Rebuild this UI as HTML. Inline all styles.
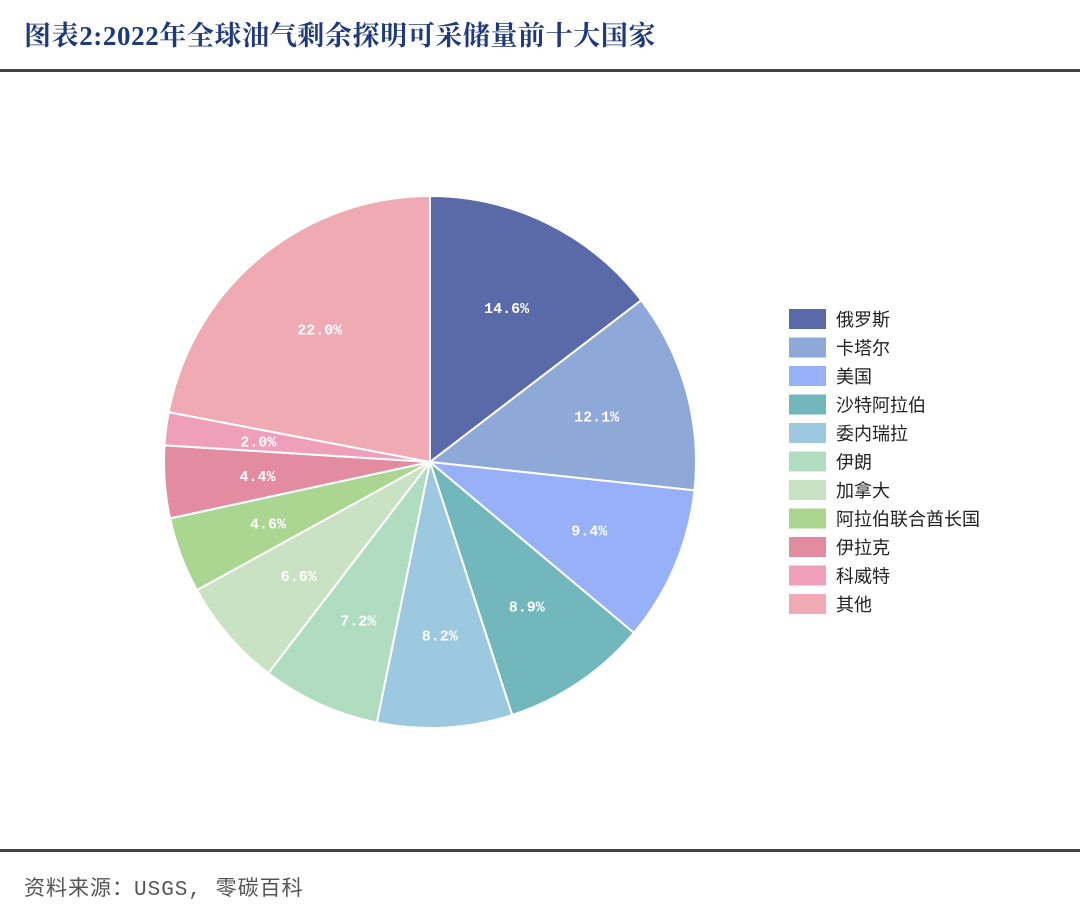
<!DOCTYPE html>
<html><head><meta charset="utf-8"><style>
body{margin:0;background:#fff;width:1080px;height:918px;overflow:hidden;font-family:"Liberation Sans","Noto Sans CJK SC",sans-serif;}
</style></head><body>
<svg id="s" width="1080" height="918" xmlns="http://www.w3.org/2000/svg">
<text x="24" y="45" font-family="Liberation Serif,'Noto Serif CJK SC',serif" font-weight="bold" font-size="27" letter-spacing="0.6" fill="#1f3a7a">图表2:2022年全球油气剩余探明可采储量前十大国家</text>
<rect x="0" y="69" width="1080" height="3" fill="#444"/>
<rect x="0" y="849" width="1080" height="3" fill="#444"/>
<text x="24" y="895" font-family="'Liberation Mono','Noto Sans CJK SC',monospace" font-size="21" letter-spacing="1" fill="#555">资料来源：USGS, 零碳百科</text>
<g id="pie"></g>
<g id="leg"></g>
</svg>
<script>
var d=[["俄罗斯",14.6,"#5a6aa8"],["卡塔尔",12.1,"#8ea9d8"],["美国",9.4,"#97b0f8"],["沙特阿拉伯",8.9,"#72b7bb"],["委内瑞拉",8.2,"#9dc9e0"],["伊朗",7.2,"#b0dcc0"],["加拿大",6.6,"#c9e2c3"],["阿拉伯联合酋长国",4.6,"#abd692"],["伊拉克",4.4,"#e38ba0"],["科威特",2.0,"#f09fbb"],["其他",22.0,"#f0aab4"]];
var cx=430,cy=462,r=266,a=0,h="",l="";
function pt(ang,rr){var t=ang*2*Math.PI/100;return [cx+rr*Math.sin(t),cy-rr*Math.cos(t)];}
d.forEach(function(e,i){
 var p1=pt(a,r),p2=pt(a+e[1],r),lg=e[1]>50?1:0;
 h+='<path d="M'+cx+','+cy+'L'+p1[0]+','+p1[1]+'A'+r+','+r+' 0 '+lg+' 1 '+p2[0]+','+p2[1]+'Z" fill="'+e[2]+'" stroke="#fff" stroke-width="2"/>';
 var m=pt(a+e[1]/2,173);
 h+='<text x="'+m[0]+'" y="'+(m[1]+6)+'" text-anchor="middle" font-family="Liberation Mono,monospace" font-weight="bold" font-size="15" fill="#fff">'+e[1].toFixed(1)+'%</text>';
 a+=e[1];
 var y=309+i*28.5;
 l+='<rect x="789" y="'+y+'" width="37" height="20" fill="'+e[2]+'"/><text x="836" y="'+(y+17)+'" font-size="18" fill="#222">'+e[0]+'</text>';
});
document.getElementById("pie").innerHTML=h;
document.getElementById("leg").innerHTML=l;
</script>
</body></html>
